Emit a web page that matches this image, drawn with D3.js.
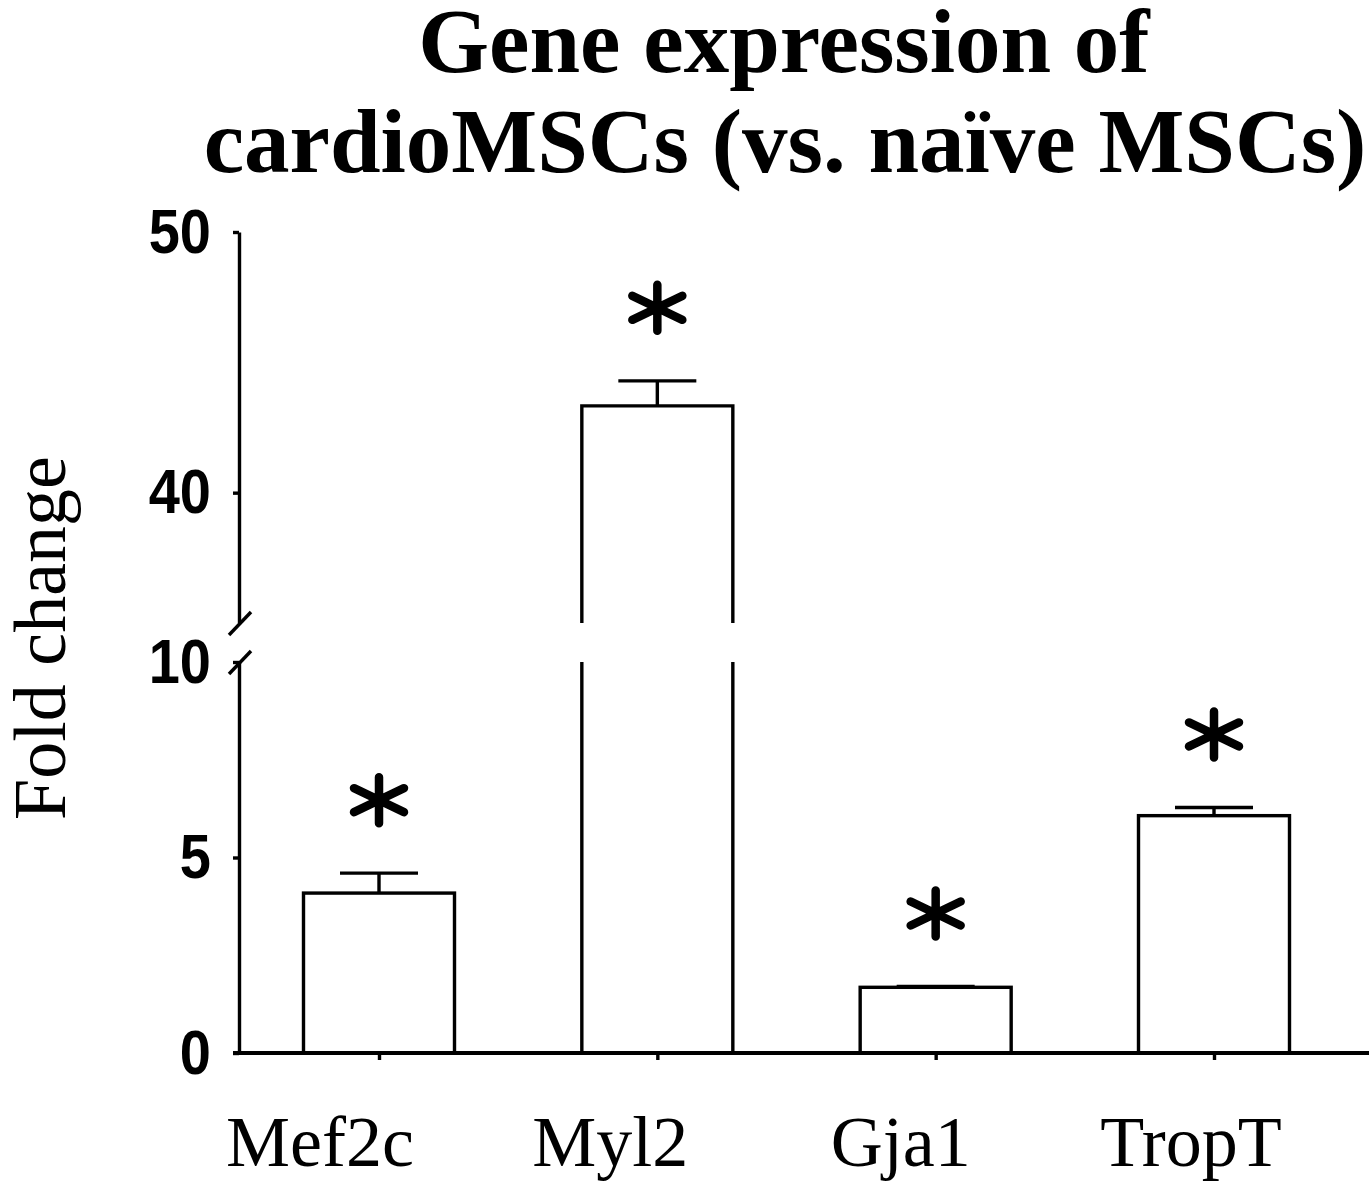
<!DOCTYPE html>
<html>
<head>
<meta charset="utf-8">
<script src="https://cdn.jsdelivr.net/npm/d3@7"></script>
<style>
  body { margin: 0; background: #fff; }
  svg { display: block; }
</style>
</head>
<body>
<div id="mydiv"></div>
<script>
// data
const genes = ['Mef2c', 'Myl2', 'Gja1', 'TropT'];
const foldChange = [4.09, 43.33, 1.68, 6.07];
const sem = [0.51, 0.96, 0.02, 0.21];
const lowTicks = [0, 5, 10];
const highTicks = [40, 50];

const W = 1369, H = 1181;

const svg = d3.select('#mydiv')
  .append('svg')
  .attr('width', W)
  .attr('height', H)
  .style('background-color', 'white');

// broken y axis: two linear pieces
const yLow = d3.scaleLinear().domain([0, 10]).range([1053, 662]);
const yHigh = d3.scaleLinear().domain([35, 50]).range([623, 232]);
const yOf = v => v <= 10 ? yLow(v) : yHigh(v);

const axisX = 239;
const x = d3.scalePoint().domain(genes).range([379, 1214]);
const xLabel = d3.scalePoint().domain(genes).range([320, 1191]); // labels sit a bit left of bars
const barW = 151, capW = 78;

const sw = 3.4;

// title
const title = svg.append('text')
  .attr('text-anchor', 'middle')
  .style('font-family', '"Liberation Serif", "Times New Roman", serif')
  .style('font-weight', 'bold')
  .style('font-size', '91px');
title.append('tspan').attr('x', 784).attr('y', 72).text('Gene expression of');
title.append('tspan').attr('x', 785).attr('y', 172).text('cardioMSCs (vs. naïve MSCs)');

// y axis title
svg.append('text')
  .attr('transform', 'translate(65,638) rotate(-90)')
  .attr('text-anchor', 'middle')
  .style('font-family', '"Liberation Serif", "Times New Roman", serif')
  .style('font-size', '74px')
  .text('Fold change');

// bars
const g = svg.append('g');

genes.forEach((d, i) => {
  const v = foldChange[i];
  const cx = x(d);
  const l = cx - barW / 2, r = cx + barW / 2;
  if (v <= 10) {
    g.append('rect')
      .attr('x', l).attr('y', yLow(v))
      .attr('width', barW).attr('height', yLow(0) - yLow(v))
      .attr('fill', 'white').attr('stroke', 'black').attr('stroke-width', sw);
  } else {
    // top piece, open at the break
    g.append('path')
      .attr('d', `M${l},${yHigh(35)}V${yHigh(v)}H${r}V${yHigh(35)}`)
      .attr('fill', 'white').attr('stroke', 'black').attr('stroke-width', sw);
    // lower piece, sides only
    g.append('path')
      .attr('d', `M${l},${yLow(10)}V${yLow(0)}M${r},${yLow(10)}V${yLow(0)}`)
      .attr('fill', 'none').attr('stroke', 'black').attr('stroke-width', sw);
  }
  // error bar
  const top = v + sem[i];
  g.append('path')
    .attr('d', `M${cx},${yOf(v)}V${yOf(top)}M${cx - capW / 2},${yOf(top)}H${cx + capW / 2}`)
    .attr('fill', 'none').attr('stroke', 'black').attr('stroke-width', sw);

  // significance asterisk
  const ay = yOf(top) - 73;
  g.append('path')
    .attr('transform', `translate(${cx},${ay})`)
    .attr('d', 'M0,-23V23M-25,-12L25,12M-25,12L25,-12')
    .attr('fill', 'none').attr('stroke', 'black')
    .attr('stroke-width', 8.5).attr('stroke-linecap', 'round');
});

// y axes
const tickFont = g => {
  g.selectAll('text')
    .style('font-family', '"Liberation Sans", Arial, sans-serif')
    .style('font-weight', 'bold')
    .style('font-size', '56px')
    .attr('transform', 'scale(1,1.12)')
    .attr('fill', 'black');
  g.selectAll('path, line').attr('stroke', 'black').attr('stroke-width', sw);
};

svg.append('g')
  .attr('transform', `translate(${axisX},0)`)
  .call(d3.axisLeft(yLow).tickValues(lowTicks).tickSize(6).tickSizeOuter(0).tickPadding(22))
  .call(tickFont);

svg.append('g')
  .attr('transform', `translate(${axisX},0)`)
  .call(d3.axisLeft(yHigh).tickValues(highTicks).tickSize(6).tickSizeOuter(0).tickPadding(22))
  .call(tickFont);

// break marks
[yHigh(35), yLow(10)].forEach(yy => {
  svg.append('line')
    .attr('x1', axisX - 10).attr('y1', yy + 12)
    .attr('x2', axisX + 12).attr('y2', yy - 11)
    .attr('stroke', 'black').attr('stroke-width', sw);
});

// x axis
const xa = svg.append('g')
  .attr('transform', `translate(0,${yLow(0)})`)
  .call(d3.axisBottom(x).tickSize(7).tickSizeOuter(0).tickFormat(''));
xa.select('.domain').remove();
xa.selectAll('line').attr('stroke', 'black').attr('stroke-width', sw);
xa.append('line')
  .attr('x1', axisX - 6).attr('x2', W)
  .attr('stroke', 'black').attr('stroke-width', sw + 0.6);

// category labels
svg.append('g')
  .selectAll('text')
  .data(genes)
  .join('text')
  .attr('x', d => xLabel(d))
  .attr('y', 1166)
  .attr('text-anchor', 'middle')
  .style('font-family', '"Liberation Serif", "Times New Roman", serif')
  .style('font-size', '72px')
  .text(d => d);
</script>
</body>
</html>
